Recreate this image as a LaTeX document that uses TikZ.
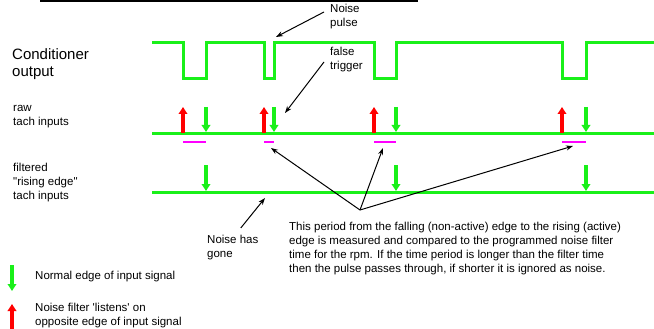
\documentclass[tikz,border=0pt]{standalone}
\usepackage{fontspec}
\setmainfont{Liberation Sans}
\usepackage{xcolor}
\usetikzlibrary{arrows.meta}
\definecolor{siggreen}{RGB}{25,240,25}
\definecolor{sigred}{RGB}{255,0,0}
\definecolor{gatepink}{RGB}{255,0,255}
\tikzset{
  sigline/.style={siggreen, line width=3pt},
  edgedown/.style={siggreen, line width=3.5pt, -{Triangle[length=7pt,width=8.5pt]}},
  edgeup/.style={sigred, line width=3.5pt, -{Triangle[length=7pt,width=8.5pt]}},
  gatemark/.style={gatepink, line width=2pt},
  callout/.style={black, line width=1pt, -{Stealth[length=7pt,width=5pt]}},
  lbl/.style={inner sep=1pt, align=left, font=\fontsize{11.5}{14}\selectfont},
}

\begin{document}
\begin{tikzpicture}[x=1pt, y=-1pt]
\useasboundingbox (0,0) rectangle (654,329);

% title underline (title itself is off the top)
\draw[line width=1.5pt] (40,0.8) -- (418,0.8);

% row labels
\node[lbl, anchor=west, font=\fontsize{15}{17}\selectfont] (condlbl) at (11,64) {Conditioner\\output};
\node[lbl, anchor=west] (rawlbl) at (12,117) {raw\\tach inputs};
\node[lbl, anchor=west] (filtlbl) at (12,183) {filtered\\\textquotedbl rising edge\textquotedbl\\tach inputs};

% conditioner output
\draw[sigline] (152,43) -- (183,43) -- (183,79) -- (206,79) -- (206,43)
  -- (264,43) -- (264,79) -- (274,79) -- (274,43)
  -- (374,43) -- (374,79) -- (396,79) -- (396,43)
  -- (562,43) -- (562,79) -- (586,79) -- (586,43) -- (654,43);

% raw tach inputs
\draw[sigline] (152,133) -- (654,133);
\foreach \a/\b in {183/206,264/274,374/396,562/586} {
  \draw[edgeup] (\a,133) -- (\a,107);
  \draw[edgedown] (\b,107) -- (\b,132);
  \draw[gatemark] (\a,142) -- (\b,142);
}

% filtered tach inputs
\draw[sigline] (152,192) -- (654,192);
\foreach \b in {206,396,586} {
  \draw[edgedown] (\b,165) -- (\b,191);
}

% callouts
\node[lbl, anchor=north west] (pulse) at (329,3) {Noise\\pulse};
\coordinate (spike) at (276,37);
\draw[callout] ([xshift=-5pt,yshift=-9pt]pulse.north west) -- (spike);

\node[lbl, anchor=west] (trigger) at (329,60) {false\\trigger};
\coordinate (falsetrig) at (285,113);
\draw[callout] ([xshift=-5pt,yshift=-2pt]trigger.west) -- (falsetrig);

\node[lbl, anchor=north west] (gone) at (206,234) {Noise has\\gone};
\coordinate (quiet) at (265,198);
\draw[callout] ([xshift=8pt,yshift=6pt]gone.north) -- (quiet);

\node[lbl, anchor=north west] (period) at (288,221) {This period from the falling (non-active) edge to the rising (active)\\
edge is measured and compared to the programmed noise filter\\
time for the rpm. If the time period is longer than the filter time\\
then the pulse passes through, if shorter it is ignored as noise.};
\coordinate (apex) at (360,210);
\coordinate (gap2) at (271,148);
\coordinate (gap3) at (383,148);
\coordinate (gap4) at (573,146);
\foreach \g in {gap2,gap3,gap4} {
  \draw[callout] (apex) -- (\g);
}

% legend
\draw[edgedown] (12,265) -- (12,291);
\node[lbl, anchor=west] (normal) at (34,277) {Normal edge of input signal};
\draw[edgeup] (12,330) -- (12,304);
\node[lbl, anchor=west] (listens) at (34,316) {Noise filter \textquotesingle listens\textquotesingle{} on\\opposite edge of input signal};

\end{tikzpicture}
\end{document}
